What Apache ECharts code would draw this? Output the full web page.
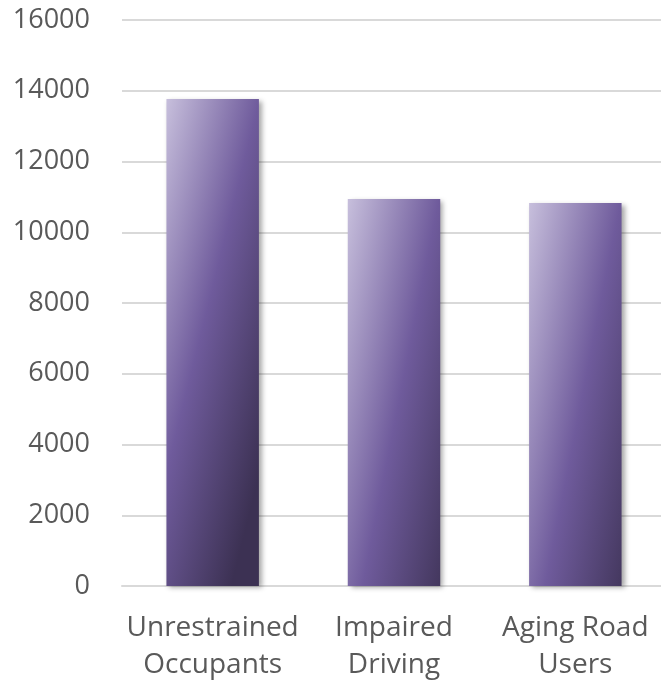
<!DOCTYPE html>
<html>
<head>
<meta charset="utf-8">
<script src="https://cdn.jsdelivr.net/npm/echarts@6/dist/echarts.min.js"></script>
<style>
  html, body { margin: 0; padding: 0; background: #ffffff; }
  #chart { width: 661px; height: 683px; }
</style>
</head>
<body>
<div id="chart"></div>
<script>
// Categories and counts shown as bars
const categories = ['Unrestrained\nOccupants', 'Impaired\nDriving', 'Aging Road\nUsers'];
const values = [13770, 10940, 10830];

// Value axis range
const yMin = 0;
const yMax = 16000;
const yStep = 2000;

// Purple diagonal gradient: light top-left, dark bottom-right
const barFill = new echarts.graphic.LinearGradient(0, 0, 1.9, 0.09, [
  { offset: 0, color: '#c7bfdc' },
  { offset: 0.5, color: '#6f5b9c' },
  { offset: 1, color: '#3c3153' }
]);

const chart = echarts.init(document.getElementById('chart'), null, { renderer: 'canvas' });

chart.setOption({
  animation: false,
  backgroundColor: '#ffffff',
  grid: {
    left: 122, width: 544, top: 20, bottom: 97,
    containLabel: false,
    outerBoundsMode: 'none'
  },
  xAxis: {
    type: 'category',
    data: categories,
    axisLine: { show: true, lineStyle: { color: '#d9d9d9', width: 2 } },
    axisTick: { show: false },
    axisLabel: {
      color: '#595959',
      fontFamily: 'Open Sans',
      fontSize: 28,
      lineHeight: 37,
      margin: 24,
      interval: 0
    }
  },
  yAxis: {
    type: 'value',
    min: yMin,
    max: yMax,
    interval: yStep,
    axisLine: { show: false },
    axisTick: { show: false },
    splitLine: { lineStyle: { color: '#d9d9d9', width: 2 } },
    axisLabel: {
      color: '#595959',
      fontFamily: 'Open Sans',
      fontSize: 27,
      margin: 32,
      formatter: (v) => String(v)
    }
  },
  series: [{
    type: 'bar',
    data: values,
    barWidth: '51%',
    itemStyle: {
      color: barFill,
      shadowColor: 'rgba(0,0,0,0.35)',
      shadowBlur: 5,
      shadowOffsetX: 3,
      shadowOffsetY: 2
    }
  }]
});
</script>
</body>
</html>
